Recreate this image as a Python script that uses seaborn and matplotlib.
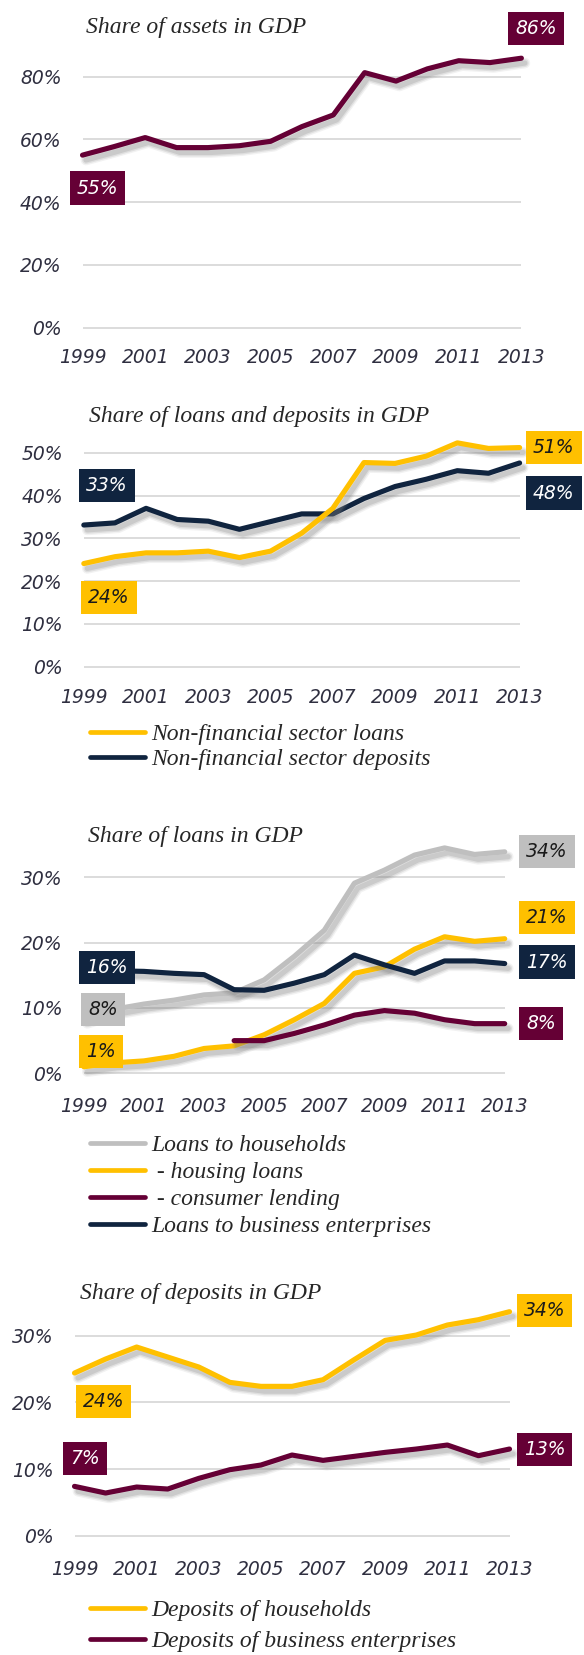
import matplotlib
matplotlib.use("Agg")
import matplotlib.pyplot as plt
import matplotlib.patheffects as pe
from matplotlib.lines import Line2D
import seaborn as sns
import pandas as pd

# ---------------------------------------------------------------- data
years = list(range(1999, 2014))
year_ticks = list(range(1999, 2014, 2))

assets_share = [55.0, 57.7, 60.6, 57.4, 57.4, 58.0, 59.4, 64.1, 67.8, 81.3, 78.6, 82.5, 85.1, 84.5, 85.9]

nonfin_loans = [24.1, 25.7, 26.6, 26.6, 27.0, 25.5, 27.0, 31.2, 37.0, 47.7, 47.5, 49.2, 52.3, 51.0, 51.2]
nonfin_deposits = [33.1, 33.6, 37.0, 34.4, 34.0, 32.1, 33.9, 35.7, 35.7, 39.3, 42.1, 43.8, 45.8, 45.2, 47.6]

household_loans = [8.4, 9.8, 10.6, 11.2, 12.0, 12.3, 14.3, 17.9, 21.9, 29.1, 31.1, 33.4, 34.5, 33.5, 33.9]
housing_loans = [1.0, 1.6, 1.9, 2.6, 3.8, 4.2, 5.9, 8.2, 10.7, 15.3, 16.3, 19.0, 20.9, 20.2, 20.6]
consumer_years = list(range(2004, 2014))
consumer_lending = [5.0, 5.0, 6.1, 7.4, 8.9, 9.6, 9.2, 8.2, 7.6, 7.6]
business_loans = [15.8, 15.7, 15.6, 15.3, 15.1, 12.8, 12.7, 13.8, 15.1, 18.1, 16.6, 15.3, 17.2, 17.2, 16.8]

household_deposits = [24.4, 26.5, 28.3, 26.8, 25.3, 23.0, 22.4, 22.4, 23.4, 26.4, 29.3, 30.1, 31.6, 32.4, 33.6]
business_deposits = [7.4, 6.4, 7.3, 7.0, 8.6, 9.9, 10.6, 12.1, 11.3, 11.9, 12.5, 13.0, 13.6, 12.0, 13.0]

titles = ["Share of assets in GDP", "Share of loans and deposits in GDP",
          "Share of loans in GDP", "Share of deposits in GDP"]

# ---------------------------------------------------------------- style
MAROON = "#650035"
NAVY = "#10243F"
GOLD = "#FFC000"
GREY = "#BFBFBF"
TICK_COLOR = "#2F2F40"

sns.set_style("white")
plt.rcParams["font.family"] = ["DejaVu Sans"]

W, H = 584, 1655
fig = plt.figure(figsize=(W / 100, H / 100), dpi=100)

SERIF = dict(family="Liberation Serif", style="italic", size=17)
LW = 3.7


def shadow():
    off = (2.5, -3.5)
    return [
        pe.SimpleLineShadow(offset=off, shadow_color="#808080", alpha=0.10, linewidth=LW + 4),
        pe.SimpleLineShadow(offset=off, shadow_color="#808080", alpha=0.16, linewidth=LW + 2),
        pe.SimpleLineShadow(offset=off, shadow_color="#808080", alpha=0.22),
        pe.Normal(),
    ]


def make_axes(left, right, zero, ppu, ymax, yticks, ymin=-1.0):
    bottom = H - (zero - ymin * ppu)
    height = (ymax - ymin) * ppu
    ax = fig.add_axes([left / W, bottom / H, (right - left) / W, height / H])
    ax.set_xlim(1999, 2013)
    ax.set_ylim(ymin, ymax)
    ax.set_yticks(yticks, labels=[f"{t}%" for t in yticks], fontstyle="italic",
                  fontsize=13.5, color=TICK_COLOR)
    ax.set_xticks(year_ticks, labels=[str(y) for y in year_ticks], fontstyle="italic",
                  fontsize=13.5, color=TICK_COLOR)
    ax.tick_params(axis="y", length=0, pad=15)
    ax.tick_params(axis="x", length=0, pad=12.5)
    ax.yaxis.grid(True, color="#D9D9D9", linewidth=1.3)
    ax.xaxis.grid(False)
    for s in ax.spines.values():
        s.set_visible(False)
    ax.set_xlabel("")
    ax.set_ylabel("")
    ax.set_facecolor("none")
    return ax


def draw_line(ax, xs, ys, color, z):
    df = pd.DataFrame({"year": xs, "share": ys})
    sns.lineplot(data=df, x="year", y="share", ax=ax, color=color, linewidth=LW,
                 path_effects=shadow(), clip_on=False, zorder=z, legend=False)
    ax.set_xlabel("")
    ax.set_ylabel("")


def tag(ax, x, v, dx, dy, bg, fg):
    ax.annotate(f"{round(v):.0f}%", xy=(x, v), xytext=(dx, dy), textcoords="offset pixels",
                ha="left", va="center", fontsize=13.5, fontstyle="italic", color=fg,
                bbox=dict(boxstyle="square,pad=0.38", fc=bg, ec="none"),
                zorder=20, annotation_clip=False)


def title(x, y, text):
    fig.text(x / W, 1 - y / H, text, ha="left", va="center", **SERIF)


def legend(ax, entries, y_center, spacing):
    handles = [Line2D([0], [0], color=c, linewidth=3.4) for c, _ in entries]
    labels = [t for _, t in entries]
    ax.legend(handles, labels, loc="center left", bbox_to_anchor=(90 / W, 1 - y_center / H),
              bbox_transform=fig.transFigure, frameon=False, borderpad=0, borderaxespad=0,
              handlelength=2.35, handletextpad=0.25, labelspacing=spacing,
              prop=dict(family="Liberation Serif", style="italic", size=17))


# ---------------------------------------------------------------- panel 1: assets
ax1 = make_axes(82.5, 521.4, 327.7, 3.1375, 90, [0, 20, 40, 60, 80])
draw_line(ax1, years, assets_share, MAROON, 3)
tag(ax1, years[0], assets_share[0], -5.8, -32.9, MAROON, "white")
tag(ax1, years[-1], assets_share[-1], -6.3, 29.9, MAROON, "white")
title(86, 27, titles[0])

# ---------------------------------------------------------------- panel 2: loans and deposits
ax2 = make_axes(83.8, 519.6, 666.7, 4.28, 55, [0, 10, 20, 30, 40, 50])
draw_line(ax2, years, nonfin_deposits, NAVY, 3)
draw_line(ax2, years, nonfin_loans, GOLD, 4)
tag(ax2, years[0], nonfin_deposits[0], 2.6, 39.7, NAVY, "white")
tag(ax2, years[0], nonfin_loans[0], 4.3, -33.8, GOLD, "#1a1a1a")
tag(ax2, years[-1], nonfin_loans[-1], 13.5, 0.0, GOLD, "#1a1a1a")
tag(ax2, years[-1], nonfin_deposits[-1], 13.5, -30.1, NAVY, "white")
title(89, 416.7, titles[1])
legend(ax2, [(GOLD, "Non-financial sector loans"), (NAVY, "Non-financial sector deposits")],
       746.7, 0.15)

# ---------------------------------------------------------------- panel 3: loans
ax3 = make_axes(83.8, 504.7, 1073.3, 6.533, 36, [0, 10, 20, 30])
draw_line(ax3, years, household_loans, GREY, 2)
draw_line(ax3, years, housing_loans, GOLD, 3)
draw_line(ax3, consumer_years, consumer_lending, MAROON, 4)
draw_line(ax3, years, business_loans, NAVY, 5)
tag(ax3, years[-1], household_loans[-1], 21.2, 0.3, GREY, "#1a1a1a")
tag(ax3, years[-1], housing_loans[-1], 21.2, 21.2, GOLD, "#1a1a1a")
tag(ax3, years[-1], business_loans[-1], 21.2, 1.5, NAVY, "white")
tag(ax3, consumer_years[-1], consumer_lending[-1], 21.2, 0.0, MAROON, "white")
tag(ax3, years[0], business_loans[0], 2.6, 2.8, NAVY, "white")
tag(ax3, years[0], household_loans[0], 4.5, 9.1, GREY, "#1a1a1a")
tag(ax3, years[0], housing_loans[0], 2.6, 15.1, GOLD, "#1a1a1a")
title(88, 836.7, titles[2])
legend(ax3, [(GREY, "Loans to households"), (GOLD, " - housing loans"),
             (MAROON, " - consumer lending"), (NAVY, "Loans to business enterprises")],
       1185.8, 0.24)

# ---------------------------------------------------------------- panel 4: deposits
ax4 = make_axes(74.5, 509.5, 1535.7, 6.667, 35, [0, 10, 20, 30])
draw_line(ax4, years, household_deposits, GOLD, 3)
draw_line(ax4, years, business_deposits, MAROON, 4)
tag(ax4, years[-1], household_deposits[-1], 14.2, 1.2, GOLD, "#1a1a1a")
tag(ax4, years[-1], business_deposits[-1], 14.2, -0.7, MAROON, "white")
tag(ax4, years[0], household_deposits[0], 8.2, -28.7, GOLD, "#1a1a1a")
tag(ax4, years[0], business_deposits[0], -4.1, 27.6, MAROON, "white")
title(80, 1293.3, titles[3])
legend(ax4, [(GOLD, "Deposits of households"), (MAROON, "Deposits of business enterprises")],
       1625.8, 0.42)

fig.savefig("out.png", dpi=100)
